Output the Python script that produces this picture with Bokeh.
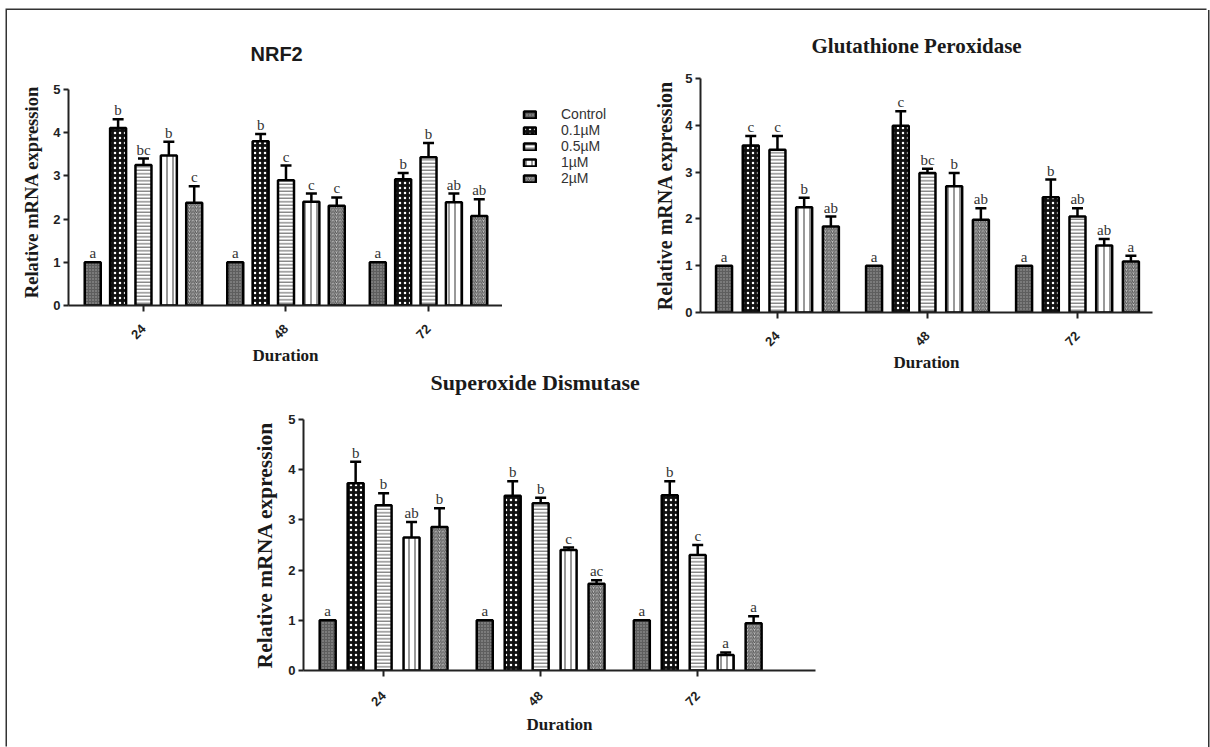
import numpy as np
from bokeh.plotting import figure
from bokeh.models import (ColumnDataSource, Range1d, FixedTicker, Whisker, TeeHead,
                          Legend, LegendItem, Spacer)
from bokeh.layouts import row, column
from bokeh.embed import file_html
from bokeh.resources import INLINE
from bokeh.core.properties import value

# ---------------- data ----------------
durations = ["24", "48", "72"]
treatments = ["Control", "0.1µM", "0.5µM", "1µM", "2µM"]

# NRF2
nrf2_control = [1.0, 1.0, 1.0]
nrf2_c01 = [4.11, 3.80, 2.92]
nrf2_c05 = [3.25, 2.90, 3.43]
nrf2_c1 = [3.47, 2.40, 2.39]
nrf2_c2 = [2.38, 2.31, 2.07]
nrf2_err_control = [0.0, 0.0, 0.0]
nrf2_err_c01 = [0.20, 0.17, 0.15]
nrf2_err_c05 = [0.15, 0.34, 0.33]
nrf2_err_c1 = [0.32, 0.19, 0.20]
nrf2_err_c2 = [0.38, 0.19, 0.39]
nrf2_lab_control = ["a", "a", "a"]
nrf2_lab_c01 = ["b", "b", "b"]
nrf2_lab_c05 = ["bc", "c", "b"]
nrf2_lab_c1 = ["b", "c", "ab"]
nrf2_lab_c2 = ["c", "c", "ab"]

# Glutathione Peroxidase
gpx_control = [1.0, 1.0, 1.0]
gpx_c01 = [3.57, 3.99, 2.46]
gpx_c05 = [3.48, 2.98, 2.05]
gpx_c1 = [2.25, 2.70, 1.43]
gpx_c2 = [1.84, 1.98, 1.09]
gpx_err_control = [0.0, 0.0, 0.0]
gpx_err_c01 = [0.20, 0.31, 0.38]
gpx_err_c05 = [0.29, 0.09, 0.18]
gpx_err_c1 = [0.20, 0.28, 0.14]
gpx_err_c2 = [0.21, 0.25, 0.12]
gpx_lab_control = ["a", "a", "a"]
gpx_lab_c01 = ["c", "c", "b"]
gpx_lab_c05 = ["c", "bc", "ab"]
gpx_lab_c1 = ["b", "b", "ab"]
gpx_lab_c2 = ["ab", "ab", "a"]

# Superoxide Dismutase
sod_control = [1.0, 1.0, 1.0]
sod_c01 = [3.73, 3.48, 3.49]
sod_c05 = [3.29, 3.33, 2.30]
sod_c1 = [2.65, 2.40, 0.31]
sod_c2 = [2.86, 1.73, 0.94]
sod_err_control = [0.0, 0.0, 0.0]
sod_err_c01 = [0.43, 0.29, 0.28]
sod_err_c05 = [0.24, 0.11, 0.20]
sod_err_c1 = [0.31, 0.05, 0.05]
sod_err_c2 = [0.37, 0.07, 0.14]
sod_lab_control = ["a", "a", "a"]
sod_lab_c01 = ["b", "b", "b"]
sod_lab_c05 = ["b", "b", "c"]
sod_lab_c1 = ["ab", "c", "a"]
sod_lab_c2 = ["b", "ac", "a"]

y_ticks = [0, 1, 2, 3, 4, 5]

# ---------------- styles ----------------
bar_styles = [
    dict(fill_color="#5e5e5e", hatch_pattern="dot", hatch_color="#a8a8a8", hatch_scale=3, hatch_weight=0.6),
    dict(fill_color="#111111", hatch_pattern="dot", hatch_color="#ffffff", hatch_scale=5, hatch_weight=1.5),
    dict(fill_color="#ffffff", hatch_pattern="horizontal_line", hatch_color="#555555", hatch_scale=3.5, hatch_weight=1),
    dict(fill_color="#ffffff", hatch_pattern="vertical_line", hatch_color="#333333", hatch_scale=6, hatch_weight=1),
    dict(fill_color="#c4c4c4", hatch_pattern="right_diagonal_line", hatch_color="#505050", hatch_scale=3.5, hatch_weight=1),
]

SERIF = "Liberation Serif"
SANS = "Liberation Sans"
STEP = 0.178


def bar_x(k):
    return [i + (k - 2) * STEP for i in range(len(durations))]


def make_panel(title, title_size, title_font, title_offset, title_standoff,
               means, errs, labels, x_range, y_range, px_per_unit,
               fw, fh, bl, br, bt, bb, ytitle_size, ytitle_standoff,
               tick_standoff=15, xlabel_standoff=0, transparent=False):
    p = figure(frame_width=fw, frame_height=fh, min_border_left=bl, min_border_right=br,
               min_border_top=bt, min_border_bottom=bb,
               x_range=Range1d(*x_range), y_range=Range1d(*y_range),
               output_backend="svg", toolbar_location=None)
    p.outline_line_color = None
    p.grid.visible = False
    p.background_fill_alpha = 0
    if transparent:
        p.border_fill_color = None
    else:
        p.border_fill_color = "white"

    p.title.text = title
    p.title.text_font = title_font
    p.title.text_font_style = "bold"
    p.title.text_font_size = title_size
    p.title.align = "left"
    p.title.offset = title_offset
    p.title.standoff = title_standoff
    p.title.text_color = "#1a1a1a"

    bar_w = 16.0 / px_per_unit
    for k, name in enumerate(treatments):
        xs = bar_x(k)
        m = means[k]
        e = errs[k]
        top = [a + b for a, b in zip(m, e)]
        src = ColumnDataSource(dict(x=xs, top=m, upper=top, lab=labels[k]))
        p.vbar(x="x", top="top", width=bar_w, bottom=0, source=src,
               line_color="black", line_width=2.5, **bar_styles[k])
        keep = [i for i in range(len(e)) if e[i] > 0]
        if keep:
            wsrc = ColumnDataSource(dict(x=[xs[i] for i in keep], lower=[m[i] for i in keep],
                                         upper=[top[i] for i in keep]))
            w = Whisker(base="x", lower="lower", upper="upper", source=wsrc, dimension="height",
                        line_width=2.5, line_color="black",
                        upper_head=TeeHead(size=11, line_width=2.5, line_color="black"),
                        lower_head=None)
            p.add_layout(w)
        p.text(x="x", y="upper", text="lab", source=src, text_align="center",
               text_baseline="bottom", y_offset=-1, text_font=value(SERIF),
               text_font_size="15px", text_color="#333333")

    # axes
    p.xaxis.ticker = FixedTicker(ticks=list(range(len(durations))))
    p.xaxis.major_label_overrides = {i: d for i, d in enumerate(durations)}
    p.xaxis.major_label_orientation = np.pi / 4
    p.yaxis.ticker = FixedTicker(ticks=y_ticks)
    p.yaxis.bounds = (y_ticks[0], y_ticks[-1])
    for ax in (p.xaxis[0], p.yaxis[0]):
        ax.axis_line_width = 2
        ax.axis_line_color = "#222222"
        ax.major_tick_line_width = 2
        ax.major_tick_line_color = "#222222"
        ax.major_tick_in = 0
        ax.major_tick_out = 5
        ax.minor_tick_line_color = None
        ax.major_label_text_font = SANS
        ax.major_label_text_font_style = "bold"
        ax.major_label_text_font_size = "13px"
        ax.major_label_text_color = "#222222"
        ax.axis_label_text_font = SERIF
        ax.axis_label_text_font_style = "bold"
        ax.axis_label_text_color = "#1a1a1a"
    p.xaxis.major_tick_out = 6
    p.xaxis.major_label_standoff = tick_standoff
    p.yaxis.major_label_standoff = 3
    p.xaxis.axis_label = "Duration"
    p.xaxis.axis_label_text_font_size = "17px"
    p.xaxis.axis_label_standoff = xlabel_standoff
    p.yaxis.axis_label = "Relative mRNA expression"
    p.yaxis.axis_label_text_font_size = ytitle_size
    p.yaxis.axis_label_standoff = ytitle_standoff
    return p


nrf2_means = [nrf2_control, nrf2_c01, nrf2_c05, nrf2_c1, nrf2_c2]

# NRF2
p1 = make_panel("NRF2", "20px", SANS, 182, 27,
                nrf2_means,
                [nrf2_err_control, nrf2_err_c01, nrf2_err_c05, nrf2_err_c1, nrf2_err_c2],
                [nrf2_lab_control, nrf2_lab_c01, nrf2_lab_c05, nrf2_lab_c1, nrf2_lab_c2],
                (-0.526, 2.519), (0, 5.2546), 142.5,
                434, 227, 61, 0, 67, 72, "18.5px", 8,
                tick_standoff=15, xlabel_standoff=0)

# legend panel (between NRF2 and GPx): hidden copies of the NRF2 series act as legend keys
pL = figure(frame_width=148, frame_height=234, min_border_left=0, min_border_right=0,
            min_border_top=67, min_border_bottom=65, x_axis_type=None, y_axis_type=None,
            x_range=Range1d(-0.5, 2.5), y_range=Range1d(0, 5),
            output_backend="svg", toolbar_location=None)
pL.outline_line_color = None
pL.grid.visible = False
pL.border_fill_color = "white"
pL.background_fill_alpha = 0
leg_items = []
for k, name in enumerate(treatments):
    r = pL.vbar(x=bar_x(k), top=nrf2_means[k], width=0.1, line_color="black",
                line_width=2.5, **bar_styles[k])
    r.visible = False
    leg_items.append(LegendItem(label=name, renderers=[r]))
lg = Legend(items=leg_items, location=(20, 126), orientation="vertical",
            margin=0, padding=0, border_line_color=None,
            background_fill_alpha=0, inactive_fill_alpha=0,
            glyph_width=15, glyph_height=9,
            label_height=12, spacing=0, label_standoff=24,
            label_text_font=SANS, label_text_font_size="14px",
            label_text_color="#333333")
pL.add_layout(lg)

p2 = make_panel("Glutathione Peroxidase", "21px", SERIF, 111, 42,
                [gpx_control, gpx_c01, gpx_c05, gpx_c1, gpx_c2],
                [gpx_err_control, gpx_err_c01, gpx_err_c05, gpx_err_c1, gpx_err_c2],
                [gpx_lab_control, gpx_lab_c01, gpx_lab_c05, gpx_lab_c1, gpx_lab_c2],
                (-0.513, 2.5), (0, 5), 150.0,
                452, 234, 50, 56, 67, 65, "20px", 6,
                tick_standoff=15, xlabel_standoff=0)

p3 = make_panel("Superoxide Dismutase", "22px", SERIF, 127, 49,
                [sod_control, sod_c01, sod_c05, sod_c1, sod_c2],
                [sod_err_control, sod_err_c01, sod_err_c05, sod_err_c1, sod_err_c2],
                [sod_lab_control, sod_lab_c01, sod_lab_c05, sod_lab_c1, sod_lab_c2],
                (-0.51, 2.75), (0, 5), 157.0,
                512, 251, 60, 20, 77, 78, "21.5px", 8,
                tick_standoff=17, xlabel_standoff=2, transparent=True)

top_row = row(p1, pL, p2, spacing=0)
bottom_row = row(Spacer(width=236, height=406), p3, spacing=0, margin=(-35, 0, 0, 0))
layout = column(top_row, bottom_row, spacing=0, margin=(10, 0, 0, 7),
                styles={"box-shadow": "-1.5px -1.5px 0 0 #333333, 1.5px 0 0 0 #333333"})

open("out.html", "w").write(file_html(layout, INLINE))
